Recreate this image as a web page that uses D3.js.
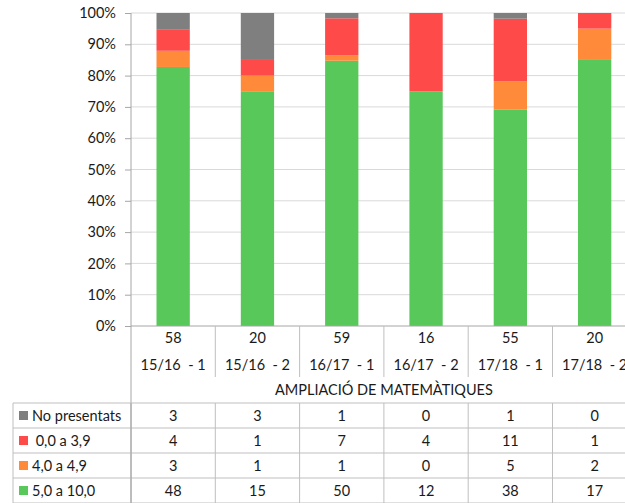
<!DOCTYPE html>
<html>
<head>
<meta charset="utf-8">
<script src="https://cdn.jsdelivr.net/npm/d3@7"></script>
<style>
body { margin: 0; background: #fff; }
text { font-family: Lato, "Open Sans", sans-serif; fill: #1a1a1a; }
</style>
</head>
<body>
<div id="chart"></div>
<script>
// categories and totals
var categories = ["15/16  - 1", "15/16  - 2", "16/17  - 1", "16/17  - 2", "17/18  - 1", "17/18  - 2"];
var totals = [58, 20, 59, 16, 55, 20];
var groupTitle = "AMPLIACIÓ DE MATEMÀTIQUES";

// series counts (table order top to bottom)
var noPresentats = [3, 3, 1, 0, 1, 0];
var suspes = [4, 1, 7, 4, 11, 1];
var gairebe = [3, 1, 1, 0, 5, 2];
var aprovat = [48, 15, 50, 12, 38, 17];

var seriesNames = ["No presentats", " 0,0 a 3,9", "4,0 a 4,9", "5,0 a 10,0"];
var seriesColors = ["#7f7f7f", "#ff4a4a", "#ff8a3a", "#59c85a"];
var seriesValues = [noPresentats, suspes, gairebe, aprovat];

var yTicks = [0, 0.1, 0.2, 0.3, 0.4, 0.5, 0.6, 0.7, 0.8, 0.9, 1];

var W = 625, H = 503;
var plot = {left: 131, top: 13, bottom: 326};
var catW = 84.3;
var fs = 14.5;

var svg = d3.select("#chart").append("svg")
	.attr("width", W).attr("height", H);

var x = d3.scaleBand()
	.domain(categories)
	.range([plot.left, plot.left + catW * categories.length])
	.paddingInner(0.605).paddingOuter(0.3025);

var y = d3.scaleLinear().domain([0, 1]).range([plot.bottom, plot.top]);

// build rows for stacking
var rows = categories.map(function(c, i){
	var r = {cat: c};
	seriesNames.forEach(function(s, j){ r[s] = seriesValues[j][i]; });
	return r;
});
// stack from bottom: 5-10, 4-4.9, 0-3.9, no presentats
var stackKeys = seriesNames.slice().reverse();
var stacked = d3.stack().keys(stackKeys).offset(d3.stackOffsetExpand)(rows);

// gridlines
svg.append("g").selectAll("line")
	.data(yTicks.slice(1))
	.join("line")
	.attr("x1", plot.left).attr("x2", W)
	.attr("y1", function(d){ return y(d); }).attr("y2", function(d){ return y(d); })
	.attr("stroke", "#d9d9d9").attr("stroke-width", 1);

// y axis labels
var yAxis = d3.axisLeft(y).tickValues(yTicks).tickFormat(d3.format(".0%")).tickSize(6).tickPadding(9);
var ya = svg.append("g").attr("transform", "translate(" + plot.left + ",0)").call(yAxis);
ya.select(".domain").remove();
ya.selectAll("line").attr("stroke", "#a6a6a6");
ya.selectAll("text").attr("font-size", fs).style("font-family", "Lato, sans-serif").attr("fill", "#1a1a1a");

// bars
svg.append("g").selectAll("g")
	.data(stacked)
	.join("g")
	.attr("fill", function(d){ return seriesColors[seriesNames.indexOf(d.key)]; })
	.selectAll("rect")
	.data(function(d){ return d; })
	.join("rect")
	.attr("x", function(d){ return x(d.data.cat); })
	.attr("width", x.bandwidth())
	.attr("y", function(d){ return y(d[1]); })
	.attr("height", function(d){ return y(d[0]) - y(d[1]); });

var lineColor = "#bfbfbf";
var tableRight = plot.left + catW * categories.length;
var tableTop = 403, rowH = 25;

// axis baseline
svg.append("line")
	.attr("x1", plot.left).attr("x2", W).attr("y1", plot.bottom).attr("y2", plot.bottom)
	.attr("stroke", "#a6a6a6");
// left vertical axis line
svg.append("line")
	.attr("x1", plot.left).attr("x2", plot.left).attr("y1", plot.top).attr("y2", H)
	.attr("stroke", "#a6a6a6");

// category separators
svg.append("g").selectAll("line")
	.data(categories.slice(1).concat(["end"]))
	.join("line")
	.attr("x1", function(d, i){ return plot.left + catW * (i + 1); })
	.attr("x2", function(d, i){ return plot.left + catW * (i + 1); })
	.attr("y1", plot.bottom).attr("y2", 377)
	.attr("stroke", lineColor);

// totals and category labels
svg.append("g").selectAll("text")
	.data(totals)
	.join("text")
	.attr("x", function(d, i){ return x(categories[i]) + x.bandwidth() / 2; })
	.attr("y", 343)
	.attr("text-anchor", "middle").attr("font-size", fs)
	.text(function(d){ return d; });

svg.append("g").selectAll("text")
	.data(categories)
	.join("text")
	.attr("x", function(d){ return x(d) + x.bandwidth() / 2; })
	.attr("y", 370)
	.attr("text-anchor", "middle").attr("font-size", fs)
	.attr("xml:space", "preserve")
	.style("white-space", "pre")
	.text(function(d){ return d; });

svg.append("text")
	.attr("x", (plot.left + tableRight) / 2).attr("y", 395)
	.attr("text-anchor", "middle").attr("font-size", fs)
	.text(groupTitle);

// data table
var tbl = svg.append("g");
d3.range(seriesNames.length + 1).forEach(function(i){
	tbl.append("line")
		.attr("x1", 13).attr("x2", tableRight)
		.attr("y1", tableTop + i * rowH).attr("y2", tableTop + i * rowH)
		.attr("stroke", lineColor);
});
[13].concat(d3.range(categories.length + 1).map(function(i){ return plot.left + catW * i; }))
	.forEach(function(xv){
		tbl.append("line")
			.attr("x1", xv).attr("x2", xv)
			.attr("y1", tableTop).attr("y2", H)
			.attr("stroke", xv === plot.left ? "#a6a6a6" : lineColor);
	});

seriesNames.forEach(function(name, j){
	var cy = tableTop + j * rowH + rowH / 2;
	tbl.append("rect")
		.attr("x", 19).attr("y", cy - 4.5).attr("width", 9).attr("height", 9)
		.attr("fill", seriesColors[j]);
	tbl.append("text")
		.attr("x", 32).attr("y", cy + 5).attr("font-size", fs)
		.attr("xml:space", "preserve").style("white-space", "pre")
		.text(name);
	seriesValues[j].forEach(function(v, i){
		tbl.append("text")
			.attr("x", x(categories[i]) + x.bandwidth() / 2)
			.attr("y", cy + 5)
			.attr("text-anchor", "middle").attr("font-size", fs)
			.text(v);
	});
});
</script>
</body>
</html>
